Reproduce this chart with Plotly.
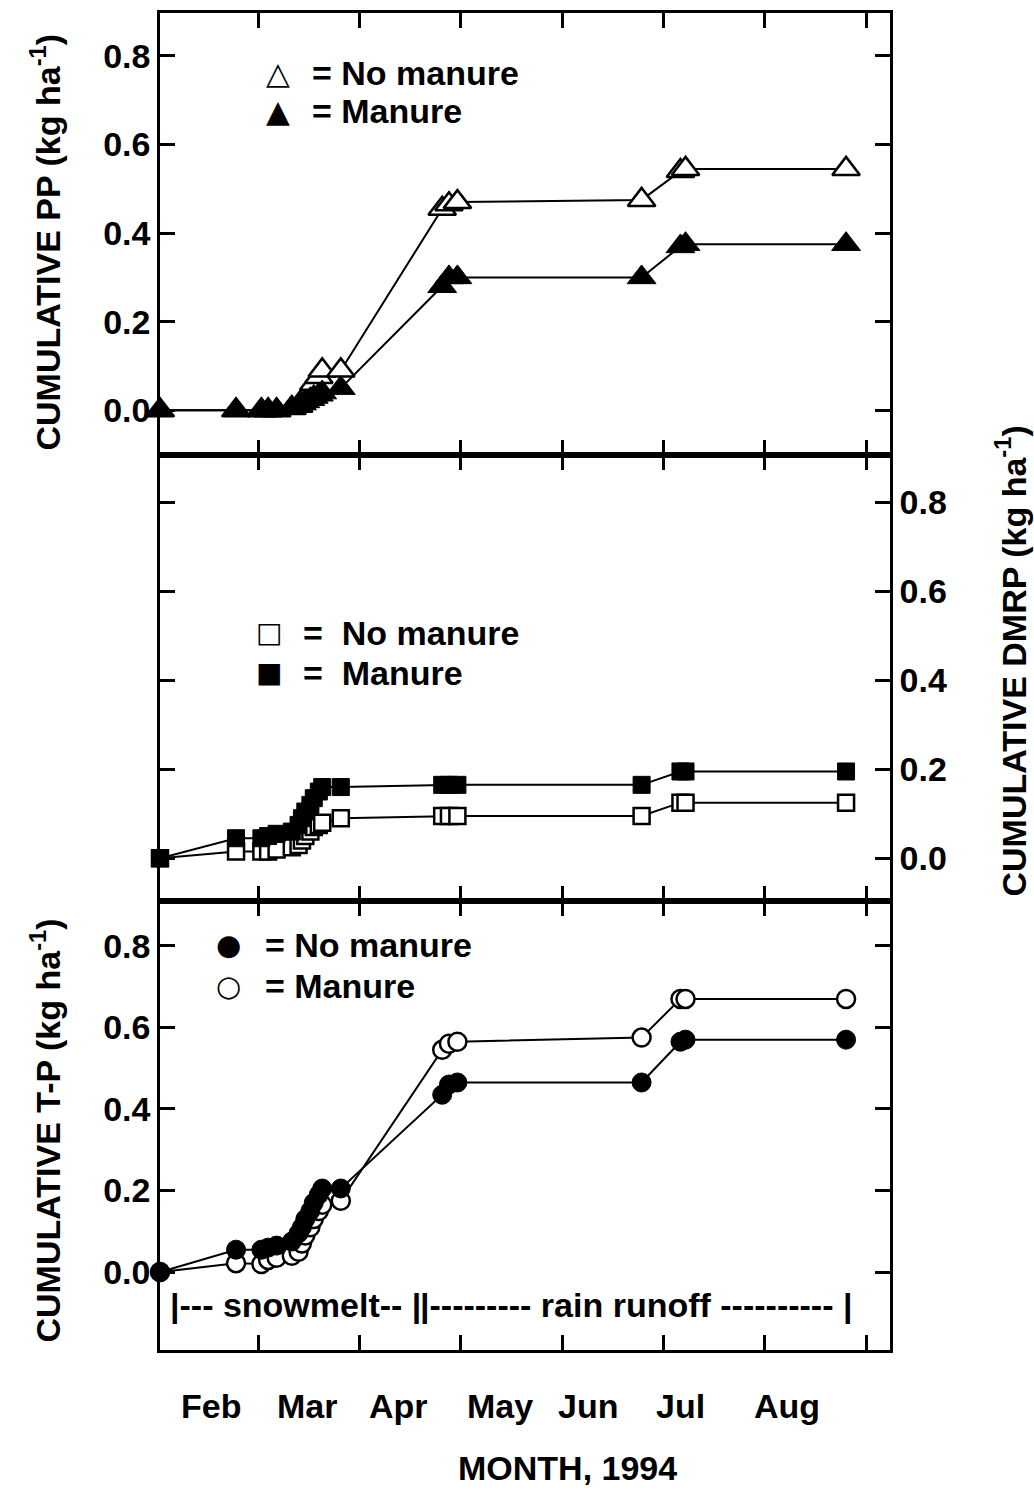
import plotly.graph_objects as go

# ---------------- data ----------------
# sampling dates, day of year 1994
days = [31, 53.5, 61, 63, 65.5, 70, 72, 73, 74, 75.5, 76.5, 78, 79, 84.5,
        114.5, 116.5, 119, 173.5, 185, 186.5, 234]

# cumulative particulate P (kg/ha)
pp_no_manure = [0, 0, 0, 0, 0, 0.005, 0.01, 0.02, 0.03, 0.045, 0.06, 0.075, 0.09, 0.09,
                0.455, 0.465, 0.47, 0.475, 0.54, 0.545, 0.545]
pp_manure = [0, 0, 0, 0, 0, 0.005, 0.01, 0.015, 0.02, 0.025, 0.03, 0.035, 0.04, 0.05,
             0.28, 0.30, 0.30, 0.30, 0.37, 0.375, 0.375]

# cumulative dissolved molybdate reactive P (kg/ha)
dmrp_no_manure = [0, 0.015, 0.015, 0.015, 0.02, 0.025, 0.03, 0.04, 0.05, 0.06, 0.07, 0.075, 0.08, 0.09,
                  0.095, 0.095, 0.095, 0.095, 0.125, 0.125, 0.125]
dmrp_manure = [0, 0.045, 0.045, 0.05, 0.055, 0.06, 0.075, 0.09, 0.105, 0.12, 0.135, 0.15, 0.16, 0.16,
               0.165, 0.165, 0.165, 0.165, 0.195, 0.195, 0.195]

# cumulative total P (kg/ha)  (legend: filled = No manure, open = Manure)
tp_no_manure = [0, 0.055, 0.055, 0.06, 0.065, 0.075, 0.095, 0.11, 0.13, 0.15, 0.17, 0.19, 0.205, 0.205,
                0.435, 0.46, 0.465, 0.465, 0.565, 0.57, 0.57]
tp_manure = [0, 0.022, 0.02, 0.03, 0.035, 0.04, 0.05, 0.07, 0.09, 0.11, 0.13, 0.15, 0.165, 0.175,
             0.545, 0.56, 0.565, 0.575, 0.67, 0.67, 0.67]

x_tick_days = [60, 90, 120, 150, 180, 210, 240]
month_labels = ["Feb", "Mar", "Apr", "May", "Jun", "Jul", "Aug"]
month_label_days = [46, 74.5, 101.5, 131.5, 157.5, 185, 216.5]
y_ticks = [0.0, 0.2, 0.4, 0.6, 0.8]

# ---------------- figure ----------------
W, H = 1034, 1493
L, R, T, B = 160, 144, 10, 143
PW = W - L - R
PH = H - T - B


def px_x(px):
    return (px - L) / PW


def px_y(py):
    return (H - B - py) / PH


FONT = "Liberation Sans"
GLYPH = "DejaVu Sans"

fig = go.Figure()


def add_series(x, y, xa, ya, symbol, size, filled):
    fig.add_trace(go.Scatter(
        x=x, y=y, xaxis=xa, yaxis=ya, mode="lines+markers",
        line=dict(color="black", width=2),
        marker=dict(symbol=symbol, size=size,
                    color="black" if filled else "white",
                    line=dict(color="black", width=1 if filled else 2.5)),
        cliponaxis=False, showlegend=False, hoverinfo="skip"))


# panel 1: PP (open drawn first, filled on top)
add_series(days, pp_no_manure, "x", "y", "triangle-up", 24, False)
add_series(days, pp_manure, "x", "y", "triangle-up", 25, True)
# panel 2: DMRP
add_series(days, dmrp_no_manure, "x2", "y2", "square", 16, False)
add_series(days, dmrp_manure, "x2", "y2", "square", 17, True)
# panel 3: T-P
add_series(days, tp_manure, "x3", "y3", "circle", 18, False)
add_series(days, tp_no_manure, "x3", "y3", "circle", 19, True)

d1 = [px_y(453), 1.0]
d2 = [px_y(900), px_y(453)]
d3 = [0.0, px_y(900)]

xcommon = dict(range=[31, 247], tickvals=x_tick_days, ticks="inside", ticklen=15, tickwidth=2.5,
               tickcolor="black", showticklabels=False, showline=True, linewidth=2.5,
               linecolor="black", mirror="ticks", showgrid=False, zeroline=False, domain=[0, 1])
ycommon = dict(tickvals=y_ticks, tickformat=".1f", ticks="inside", ticklen=15, tickwidth=2.5,
               tickcolor="black", showline=True, linewidth=2.5, linecolor="black",
               mirror="ticks", showgrid=False, zeroline=False,
               tickfont=dict(family=FONT, size=34, color="black", weight="bold"))

fig.update_layout(
    width=W, height=H, margin=dict(l=L, r=R, t=T, b=B),
    paper_bgcolor="white", plot_bgcolor="white", showlegend=False,
    font=dict(family=FONT, color="black"),
    xaxis=dict(xcommon, anchor="y"),
    xaxis2=dict(xcommon, anchor="y2"),
    xaxis3=dict(xcommon, anchor="y3"),
    yaxis=dict(ycommon, domain=d1, range=[-0.101, 0.897], anchor="x", side="left"),
    yaxis2=dict(ycommon, domain=d2, range=[-0.096, 0.906], anchor="x2", side="right"),
    yaxis3=dict(ycommon, domain=d3, range=[-0.191, 0.910], anchor="x3", side="left"),
)

ann = []
tf = dict(family=FONT, size=34, color="black", weight="bold")

# month labels
for lab, d in zip(month_labels, month_label_days):
    ann.append(dict(x=d, xref="x3", y=px_y(1406), yref="paper", text=lab, showarrow=False,
                    xanchor="center", yanchor="middle", font=tf))
ann.append(dict(x=px_x(567), y=px_y(1468), xref="paper", yref="paper", text="MONTH, 1994",
                showarrow=False, xanchor="center", yanchor="middle", font=tf))

# axis titles
ann.append(dict(x=px_x(45), y=px_y(240), xref="paper", yref="paper", textangle=-90,
                text="CUMULATIVE PP (kg ha<sup>-1</sup>)", showarrow=False,
                xanchor="center", yanchor="middle", font=tf))
ann.append(dict(x=px_x(1011), y=px_y(660), xref="paper", yref="paper", textangle=-90,
                text="CUMULATIVE DMRP (kg ha<sup>-1</sup>)", showarrow=False,
                xanchor="center", yanchor="middle", font=tf))
ann.append(dict(x=px_x(45), y=px_y(1130), xref="paper", yref="paper", textangle=-90,
                text="CUMULATIVE T-P (kg ha<sup>-1</sup>)", showarrow=False,
                xanchor="center", yanchor="middle", font=tf))


# legends
def legend_row(gx, tx, py, glyph, gsize, text):
    ann.append(dict(x=px_x(gx), y=px_y(py), xref="paper", yref="paper", text=glyph,
                    showarrow=False, xanchor="center", yanchor="middle",
                    font=dict(family=GLYPH, size=gsize, color="black")))
    ann.append(dict(x=px_x(tx), y=px_y(py), xref="paper", yref="paper", text=text,
                    showarrow=False, xanchor="left", yanchor="middle", font=tf))


legend_row(278, 310, 70, "\u25B3", 31, "= No manure")
legend_row(278, 310, 108, "\u25B2", 31, "= Manure")
legend_row(269, 301, 631, "\u25A1", 28, "=  No manure")
legend_row(269, 301, 671, "\u25A0", 28, "=  Manure")
legend_row(228, 263, 944, "\u25CF", 29, "= No manure")
legend_row(228, 263, 985, "\u25CB", 29, "= Manure")

# period annotation
ann.append(dict(x=px_x(168), y=px_y(1305), xref="paper", yref="paper",
                text="|--- snowmelt-- |", showarrow=False, xanchor="left", yanchor="middle", font=tf))
ann.append(dict(x=px_x(418), y=px_y(1305), xref="paper", yref="paper",
                text="|--------- rain runoff ---------- |", showarrow=False,
                xanchor="left", yanchor="middle", font=tf))

fig.update_layout(annotations=ann)

fig.write_html("out.html", config={"displayModeBar": False},
               post_script="document.body.style.margin='0';")
